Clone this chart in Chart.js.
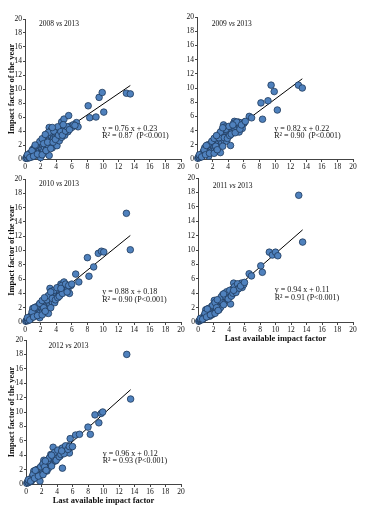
<!DOCTYPE html>
<html>
<head>
<meta charset="utf-8">
<script src="https://cdn.jsdelivr.net/npm/chart.js@4"></script>
<style>
  body { margin: 0; background: #fff; }
  canvas { position: absolute; }
</style>
</head>
<body>
<canvas id="c2008"></canvas>
<canvas id="c2009"></canvas>
<canvas id="c2010"></canvas>
<canvas id="c2011"></canvas>
<canvas id="c2012"></canvas>
<script>
// [last available IF, IF of the year]
const pts2008 = [[0.1,0.1],[0.2,0.3],[0.3,0.1],[0.4,0.5],[0.5,0.2],[0.6,0.8],[0.7,0.4],[0.8,0.9],[0.9,0.3],[1.0,1.4],[1.0,0.7],[1.1,1.1],[1.2,0.5],[1.2,1.6],[1.3,0.9],[1.4,1.3],[1.5,0.6],[1.5,1.8],[1.6,1.1],[1.7,1.5],[1.8,0.8],[1.8,2.1],[1.9,1.3],[2.0,1.7],[2.0,0.2],[2.1,2.4],[2.1,1.0],[2.2,1.5],[2.3,2.0],[2.3,2.8],[2.4,1.2],[2.5,2.3],[2.5,1.7],[2.6,3.0],[2.6,0.9],[2.7,2.0],[2.8,2.6],[2.8,1.4],[2.9,3.3],[3.0,2.2],[3.0,1.8],[3.1,0.5],[3.1,4.5],[3.2,2.9],[3.2,3.6],[3.3,2.4],[3.4,4.2],[3.4,3.2],[3.5,2.7],[3.5,1.6],[3.6,3.5],[3.7,3.0],[3.8,3.9],[3.8,2.2],[3.9,3.3],[4.0,3.7],[4.0,2.6],[4.1,4.1],[4.2,3.2],[4.1,1.9],[4.3,3.9],[4.4,4.4],[4.4,2.6],[4.5,3.6],[4.6,4.2],[4.7,5.3],[4.7,3.1],[4.8,4.5],[4.9,3.6],[5.0,5.7],[5.0,4.2],[5.1,3.4],[5.3,4.5],[5.4,4.1],[5.5,3.9],[5.6,6.2],[5.8,4.7],[6.0,4.5],[6.6,5.2],[6.8,4.6],[8.1,7.6],[8.3,5.9],[9.1,6.0],[9.5,8.8],[9.9,9.5],[10.1,6.7],[13.0,9.4],[13.5,9.3],
  [0.3,0.6],[0.6,0.2],[0.9,1.2],[1.1,0.4],[1.4,1.9],[1.6,0.7],[1.9,2.5],[2.2,2.9],[2.2,0.6],[2.4,2.2],[2.7,1.2],[2.9,2.4],[3.0,3.8],[3.3,1.5],[3.6,2.4],[3.7,4.0],[3.9,2.8],[4.2,4.6],[4.3,3.4],[4.6,3.9],[4.8,3.4],[5.2,4.0],[5.4,4.6],[5.7,4.2],[6.2,4.9],[6.4,4.8],[1.3,2.0],[2.6,3.5],[3.5,4.5],[4.9,4.9]];
const pts2009 = [[0.1,0.1],[0.2,0.3],[0.3,0.2],[0.4,0.5],[0.5,0.3],[0.6,0.7],[0.7,0.5],[0.8,1.0],[0.9,0.6],[1.0,1.6],[1.0,0.9],[1.1,1.2],[1.2,0.7],[1.3,1.7],[1.3,1.0],[1.4,1.4],[1.5,0.4],[1.5,1.9],[1.6,1.2],[1.7,1.6],[1.8,0.9],[1.8,2.2],[1.9,1.5],[2.0,2.0],[2.0,1.1],[2.1,2.6],[2.2,1.7],[2.3,2.3],[2.3,1.3],[2.4,2.9],[2.5,2.0],[2.5,1.5],[2.6,2.6],[2.7,3.1],[2.7,1.1],[2.8,2.3],[2.9,1.8],[2.9,3.5],[3.0,2.7],[3.0,0.9],[3.1,3.2],[3.2,4.0],[3.2,2.3],[3.3,2.9],[3.4,4.8],[3.4,3.4],[3.5,2.6],[3.6,4.5],[3.6,3.8],[3.7,3.1],[3.8,4.0],[3.8,2.5],[3.9,3.6],[4.0,4.3],[4.0,3.2],[4.1,3.8],[4.2,4.5],[4.3,1.9],[4.3,3.5],[4.4,4.1],[4.5,4.6],[4.6,3.9],[4.7,4.4],[4.8,5.3],[4.9,4.1],[5.0,4.6],[5.2,4.9],[5.3,5.2],[5.4,3.8],[5.5,4.6],[5.6,5.1],[5.8,4.3],[6.0,5.0],[6.1,5.2],[6.7,6.0],[7.0,5.8],[8.2,7.9],[8.4,5.6],[9.1,8.2],[9.5,10.4],[9.9,9.5],[10.3,6.9],[13.0,10.4],[13.5,10.0],
  [0.3,0.6],[0.6,0.3],[0.9,1.3],[1.1,0.6],[1.4,2.0],[1.6,0.8],[1.9,2.5],[2.2,2.9],[2.2,0.8],[2.4,1.8],[2.6,1.3],[2.8,3.0],[3.0,3.8],[3.3,1.8],[3.5,3.0],[3.7,4.2],[3.9,2.9],[4.1,4.6],[4.2,3.3],[4.4,3.5],[4.7,5.0],[4.9,3.7],[5.1,5.2],[5.5,4.2],[5.7,4.8],[6.2,5.3],[1.2,1.9],[2.5,3.3],[3.3,4.4],[4.6,4.8]];
const pts2010 = [[0.1,0.1],[0.2,0.2],[0.3,0.4],[0.4,0.2],[0.5,0.6],[0.6,0.4],[0.7,0.8],[0.8,0.5],[0.9,1.1],[1.0,1.9],[1.0,0.8],[1.1,1.3],[1.2,0.9],[1.3,1.8],[1.3,1.2],[1.4,1.5],[1.5,0.9],[1.5,2.1],[1.6,1.4],[1.7,1.8],[1.8,1.1],[1.8,2.4],[1.9,0.6],[1.9,1.7],[2.0,2.1],[2.0,1.3],[2.1,2.7],[2.2,1.9],[2.3,2.4],[2.3,1.5],[2.4,2.9],[2.5,2.2],[2.5,1.7],[2.6,2.7],[2.7,3.1],[2.7,1.3],[2.8,2.4],[2.9,1.9],[2.9,3.3],[3.0,2.8],[3.0,1.2],[3.1,3.2],[3.2,4.7],[3.2,2.5],[3.3,3.0],[3.4,4.3],[3.4,3.6],[3.5,2.8],[3.6,3.9],[3.7,3.3],[3.8,4.1],[3.8,2.7],[3.9,3.7],[4.0,4.4],[4.0,3.4],[4.1,3.9],[4.2,4.6],[4.3,3.6],[4.4,4.2],[4.5,4.8],[4.5,3.8],[4.6,5.3],[4.7,4.4],[4.9,4.8],[5.0,5.6],[5.1,4.3],[5.3,5.0],[5.5,4.6],[5.7,4.0],[5.9,5.1],[6.5,6.7],[6.9,5.6],[8.0,9.0],[8.2,6.4],[8.8,7.7],[9.4,9.6],[9.8,9.9],[10.1,9.8],[13.0,15.2],[13.5,10.1],
  [0.3,0.6],[0.6,0.3],[0.9,1.4],[1.1,0.7],[1.4,2.1],[1.6,0.9],[1.9,2.6],[2.2,3.0],[2.2,1.0],[2.4,2.0],[2.6,1.5],[2.8,3.1],[3.0,3.7],[3.3,2.0],[3.5,3.3],[3.7,4.4],[3.9,3.1],[4.1,4.8],[4.2,3.4],[4.4,3.6],[4.7,5.1],[4.8,4.0],[5.2,5.3],[5.4,4.2],[5.6,5.1],[6.0,5.3],[1.2,2.0],[2.5,3.4],[3.3,4.2],[4.6,4.7]];
const pts2011 = [[0.1,0.1],[0.2,0.2],[0.3,0.3],[0.4,0.4],[0.5,0.3],[0.6,0.6],[0.7,0.5],[0.8,0.9],[0.9,0.6],[1.0,1.7],[1.0,1.0],[1.1,1.3],[1.2,0.9],[1.3,1.6],[1.3,1.1],[1.4,1.5],[1.5,0.8],[1.5,1.9],[1.6,1.4],[1.7,1.8],[1.8,1.0],[1.8,2.2],[1.9,1.6],[2.0,2.0],[2.0,1.3],[2.1,2.5],[2.1,3.0],[2.2,1.9],[2.3,2.3],[2.3,1.5],[2.4,2.7],[2.5,2.2],[2.5,1.8],[2.6,2.6],[2.7,3.0],[2.7,1.7],[2.8,2.5],[2.9,2.0],[2.9,3.2],[3.0,2.8],[3.1,3.3],[3.2,3.8],[3.2,2.6],[3.3,3.1],[3.4,3.6],[3.5,4.0],[3.5,3.0],[3.6,3.4],[3.7,3.8],[3.8,4.1],[3.8,3.2],[3.9,3.7],[4.0,4.2],[4.1,3.5],[4.2,2.5],[4.2,4.0],[4.3,4.4],[4.4,3.8],[4.5,4.6],[4.6,5.4],[4.7,4.2],[4.8,4.7],[4.9,4.4],[5.0,5.0],[5.2,4.6],[5.4,5.1],[5.6,5.4],[5.7,4.8],[5.9,5.2],[6.6,6.7],[6.9,6.4],[8.1,7.8],[8.3,6.9],[9.2,9.7],[9.6,9.3],[10.0,9.7],[10.3,9.2],[13.0,17.6],[13.5,11.1],
  [0.3,0.5],[0.6,0.4],[0.9,1.2],[1.1,0.7],[1.4,1.9],[1.6,1.0],[1.9,2.3],[2.2,2.7],[2.2,1.2],[2.4,2.0],[2.6,1.6],[2.8,3.0],[3.0,3.5],[3.3,2.4],[3.5,3.6],[3.7,4.2],[3.9,3.2],[4.1,4.4],[4.3,3.6],[4.5,4.0],[4.7,4.9],[4.9,4.1],[5.1,5.3],[5.3,4.7],[5.5,5.0],[6.0,5.5],[1.2,1.8],[2.5,3.1],[3.3,3.9],[4.6,4.4]];
const pts2012 = [[0.1,0.1],[0.2,0.3],[0.3,0.2],[0.4,0.5],[0.5,0.3],[0.6,0.7],[0.7,0.4],[0.8,1.0],[0.9,0.7],[1.0,1.8],[1.0,1.1],[1.1,1.4],[1.2,0.9],[1.3,1.7],[1.3,1.2],[1.4,1.5],[1.5,1.0],[1.5,2.0],[1.6,1.4],[1.7,1.8],[1.8,0.4],[1.8,2.2],[1.9,1.6],[2.0,2.1],[2.0,1.3],[2.1,2.6],[2.2,1.9],[2.3,2.4],[2.3,3.3],[2.4,2.1],[2.5,2.8],[2.5,1.8],[2.6,2.5],[2.7,3.0],[2.7,1.8],[2.8,2.6],[2.9,2.2],[2.9,3.4],[3.0,2.8],[3.1,3.3],[3.2,4.1],[3.2,2.6],[3.3,3.1],[3.4,3.7],[3.5,5.1],[3.5,3.1],[3.6,3.5],[3.7,3.9],[3.8,4.3],[3.8,3.2],[3.9,3.8],[4.0,4.4],[4.1,3.6],[4.2,4.1],[4.3,4.6],[4.4,3.9],[4.5,4.5],[4.6,4.9],[4.7,2.2],[4.7,4.3],[4.8,4.7],[4.9,5.0],[5.0,4.5],[5.2,5.0],[5.3,4.8],[5.5,5.3],[5.6,4.3],[5.7,6.3],[5.8,5.1],[6.4,6.8],[6.9,6.9],[8.0,7.9],[8.3,6.9],[8.9,9.6],[9.4,8.5],[9.7,9.8],[9.9,10.0],[13.0,18.0],[13.5,11.8],
  [0.3,0.6],[0.6,0.4],[0.9,1.3],[1.1,0.8],[1.4,2.0],[1.6,1.1],[1.9,2.4],[2.2,2.8],[2.2,1.3],[2.4,2.4],[2.6,1.9],[2.8,3.2],[3.0,3.6],[3.3,2.5],[3.5,3.8],[3.7,4.4],[3.9,3.3],[4.1,4.7],[4.3,3.8],[4.5,4.1],[4.7,5.0],[4.9,4.2],[5.1,5.3],[5.4,4.8],[5.6,5.2],[6.0,5.2],[1.2,1.9],[2.5,3.2],[3.3,4.0],[4.6,4.6]];

// fitted line end points (x = 0 and x = 13.5)
const fitX = [0, 13.5];
const fit2008 = [0.23, 10.5];
const fit2009 = [0.22, 11.3];
const fit2010 = [0.18, 12.1];
const fit2011 = [0.11, 12.8];
const fit2012 = [0.12, 13.1];

const years = ['2008', '2009', '2010', '2011', '2012'];
const eqLines = ['y = 0.76 x + 0.23', 'y = 0.82 x + 0.22', 'y = 0.88 x + 0.18', 'y = 0.94 x + 0.11', 'y = 0.96 x + 0.12'];
const r2Lines = ['R² = 0.87  (P<0.001)', 'R² = 0.90  (P<0.001)', 'R² = 0.90 (P<0.001)', 'R² = 0.91 (P<0.001)', 'R² = 0.93 (P<0.001)'];
const axisTicks = [0, 2, 4, 6, 8, 10, 12, 14, 16, 18, 20];

const serif = '"Liberation Serif", "Times New Roman", serif';

// texts inside the plot (panel title and equation), placed in data units
const notes = {
  id: 'notes',
  afterDatasetsDraw(chart, args, o) {
    const ctx = chart.ctx;
    const sx = chart.scales.x, sy = chart.scales.y;
    ctx.save();
    ctx.fillStyle = '#111';
    ctx.textBaseline = 'middle';
    ctx.textAlign = 'left';
    let px = sx.getPixelForValue(o.tx);
    const py = sy.getPixelForValue(o.ty);
    const parts = [[o.year + ' ', ''], ['vs', 'italic '], [' 2013', '']];
    parts.forEach(p => {
      ctx.font = p[1] + '7.5px ' + serif;
      ctx.fillText(p[0], px, py);
      px += ctx.measureText(p[0]).width;
    });
    ctx.font = '8px ' + serif;
    const ex = sx.getPixelForValue(o.ex), ey = sy.getPixelForValue(o.ey);
    ctx.fillText(o.eq, ex, ey);
    ctx.fillText(o.r2, ex, ey + 7.5);
    ctx.restore();
  }
};

function panel(i, pts, fit, f) {
  const cv = document.getElementById('c' + years[i]);
  const top = f.t - 8;
  const w = f.r + 8 - f.cl;
  const h = f.b - top + 22;
  cv.width = w; cv.height = h;
  cv.style.left = f.cl + 'px';
  cv.style.top = top + 'px';
  cv.style.width = w + 'px';
  cv.style.height = h + 'px';
  const yw = f.l - f.cl;

  new Chart(cv, {
    type: 'scatter',
    data: {
      datasets: [{
        data: pts.map(p => ({x: p[0], y: p[1]})),
        backgroundColor: '#4f81bd',
        borderColor: '#1f3a5c',
        borderWidth: 0.8,
        pointRadius: 3.3,
        pointHoverRadius: 3.3,
        clip: false
      }, {
        data: fitX.map((x, k) => ({x: x, y: fit[k]})),
        showLine: true,
        borderColor: '#000',
        borderWidth: 1,
        pointRadius: 0
      }]
    },
    options: {
      responsive: false,
      animation: false,
      events: [],
      layout: { padding: { top: 8, right: 8, left: 0, bottom: 0 } },
      plugins: {
        legend: { display: false },
        tooltip: { enabled: false },
        notes: { year: years[i], tx: f.tx, ty: f.ty, ex: 9.9, ey: f.ey, eq: eqLines[i], r2: r2Lines[i] }
      },
      scales: {
        x: {
          type: 'linear', min: 0, max: 20,
          afterBuildTicks: s => { s.ticks = axisTicks.map(v => ({value: v})); },
          afterFit: s => { s.height = 22; },
          grid: { display: true, drawOnChartArea: false, tickLength: 3, color: '#444' },
          border: { color: '#444', width: 1 },
          ticks: { color: '#111', font: { family: serif, size: 7.5 }, padding: 1, maxRotation: 0, autoSkip: false },
          title: { display: f.xt, text: 'Last available impact factor', color: '#111', padding: 0,
                   font: { family: serif, size: 8.5, weight: 'bold' } }
        },
        y: {
          type: 'linear', min: 0, max: 20,
          afterBuildTicks: s => { s.ticks = axisTicks.map(v => ({value: v})); },
          afterFit: s => { s.width = yw; },
          grid: { display: true, drawOnChartArea: false, tickLength: 2, color: '#444' },
          border: { color: '#444', width: 1 },
          ticks: { color: '#111', font: { family: serif, size: 7.5 }, padding: 1, autoSkip: false },
          title: { display: f.yt, text: 'Impact factor of the year', color: '#111', padding: 0,
                   font: { family: serif, size: 8.5, weight: 'bold' } }
        }
      }
    },
    plugins: [notes]
  });
}

panel(0, pts2008, fit2008, { l: 25, r: 181, t: 19, b: 159, cl: 7, yt: true, xt: false, tx: 1.8, ty: 19.3, ey: 4.3 });
panel(1, pts2009, fit2009, { l: 197, r: 353, t: 17, b: 159, cl: 182, yt: false, xt: false, tx: 1.9, ty: 19.0, ey: 4.3 });
panel(2, pts2010, fit2010, { l: 25, r: 181, t: 179, b: 322, cl: 7, yt: true, xt: false, tx: 1.8, ty: 19.3, ey: 4.2 });
panel(3, pts2011, fit2011, { l: 198, r: 353, t: 178, b: 322, cl: 182, yt: false, xt: true, tx: 1.9, ty: 18.9, ey: 4.4 });
panel(4, pts2012, fit2012, { l: 26, r: 181, t: 340, b: 484, cl: 7, yt: true, xt: true, tx: 2.9, ty: 19.1, ey: 4.2 });
</script>
</body>
</html>
